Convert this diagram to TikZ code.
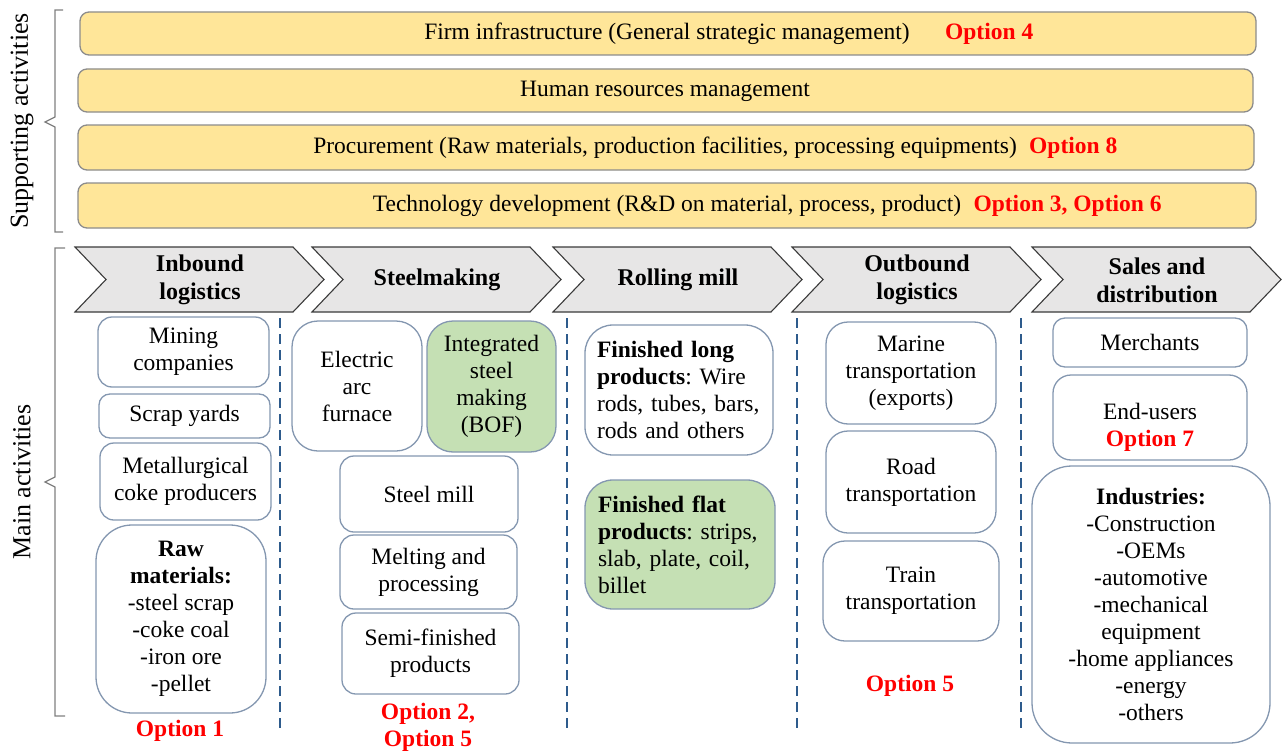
\documentclass[tikz,border=0pt]{standalone}
\usepackage{fontspec}
\setmainfont{Liberation Serif}
\frenchspacing
\definecolor{barfill}{HTML}{FFE699}
\definecolor{barline}{HTML}{8C8C8C}
\definecolor{chevfill}{HTML}{E7E6E6}
\definecolor{chevline}{HTML}{3A3A3A}
\definecolor{boxline}{HTML}{8497B0}
\definecolor{greenfill}{HTML}{C5E0B4}
\definecolor{divline}{HTML}{2E5B8C}
\definecolor{optred}{HTML}{FF0000}
\definecolor{bracegray}{HTML}{7F7F7F}
\begin{document}
\begin{tikzpicture}[x=1pt,y=-1pt,
  every node/.style={font=\rmfamily\fontsize{23.5}{27}\selectfont, inner sep=0pt, text=black},
  bar/.style={draw=barline, fill=barfill, line width=1.3pt, rounded corners=9pt},
  chev/.style={draw=chevline, fill=chevfill, line width=1.1pt, line join=miter},
  head/.style={font=\rmfamily\fontsize{24}{28}\selectfont\bfseries, align=center},
  box/.style={draw=boxline, fill=white, line width=1.3pt, rounded corners=14pt, align=center},
  gbox/.style={box, fill=greenfill},
  opt/.style={font=\rmfamily\fontsize{23.5}{27}\selectfont\bfseries, text=optred, align=center},
  divider/.style={draw=divline, line width=1.8pt, dash pattern=on 10pt off 6pt},
  bracket/.style={draw=bracegray, line width=1.3pt},
  side/.style={font=\rmfamily\fontsize{26}{30}\selectfont, rotate=90}]
\useasboundingbox (0,0) rectangle (1285,752);

% side brackets and labels
\draw[bracket] (63,10) -- (55,10) -- (55,117) -- (45,122) -- (55,127) -- (55,232) -- (63,232);
\draw[bracket] (65,248) -- (55,248) -- (55,477) -- (45,482) -- (55,487) -- (55,716) -- (65,716);
\node[side] (suplab) at (22,121) {Supporting activities};
\node[side] (mainlab) at (22,482) {Main activities};

% supporting activities
\node[bar, minimum width=1176pt, minimum height=43pt] (bar1) at (668,33.5) {};
\node[bar, minimum width=1175pt, minimum height=43pt] (bar2) at (665.5,90.5) {};
\node[bar, minimum width=1176pt, minimum height=45pt] (bar3) at (666,147.5) {};
\node[bar, minimum width=1178pt, minimum height=45pt] (bar4) at (667,205.5) {};
\node (firm) at (667,34) {Firm infrastructure (General strategic management)};
\node[opt, anchor=west] (opt4) at ([xshift=35pt]firm.east) {Option 4};
\node (hrm) at (665,91) {Human resources management};
\node (proc) at (665,148) {Procurement (Raw materials, production facilities, processing equipments)};
\node[opt, anchor=west] (opt8) at ([xshift=12pt]proc.east) {Option 8};
\node (tech) at (667,206) {Technology development (R\&D on material, process, product)};
\node[opt, anchor=west] (opt36) at ([xshift=12pt]tech.east) {Option 3, Option 6};

% value chain chevrons
\foreach \x/\nm/\txt in {75/inb/{Inbound\\logistics}, 312/stm/{Steelmaking}, 553/rol/{Rolling mill},
                         792/outb/{Outbound\\logistics}, 1032/sal/{Sales and\\distribution}} {
  \draw[chev] (\x,247) -- ++(218,0) -- ++(31,32.5) -- ++(-31,32.5) -- ++(-218,0) -- ++(31,-32.5) -- cycle;
  \node[head] (\nm) at (\x+125,280) {\txt};
}

% column dividers
\draw[divider] (280,318) -- (280,732);
\draw[divider] (567,318) -- (567,732);
\draw[divider] (797,318) -- (797,732);
\draw[divider] (1021,318) -- (1021,732);

% inbound logistics
\node[box, minimum width=171pt, minimum height=70pt] (mining) at (183.5,352) {Mining\\companies};
\node[box, minimum width=171pt, minimum height=44pt, rounded corners=11pt] (scrap) at (184.5,416) {Scrap yards};
\node[box, minimum width=171pt, minimum height=77pt] (coke) at (185.5,481.5) {Metallurgical\\coke producers};
\node[box, minimum width=170pt, minimum height=188pt, rounded corners=36pt] (raw) at (181,619)
  {\textbf{Raw}\\\textbf{materials:}\\-steel scrap\\-coke coal\\-iron ore\\-pellet};
\node[opt] (opt1) at (180,731) {Option 1};

% steelmaking
\node[box, minimum width=130pt, minimum height=130pt, rounded corners=26pt] (eaf) at (357,386) {Electric\\arc\\furnace};
\node[gbox, minimum width=129pt, minimum height=131pt, rounded corners=26pt] (bof) at (491.5,386.5) {Integrated\\steel\\making\\(BOF)};
\node[box, minimum width=178pt, minimum height=76pt] (mill) at (429,494) {Steel mill};
\node[box, minimum width=177pt, minimum height=74pt] (melt) at (428.5,572) {Melting and\\processing};
\node[box, minimum width=177pt, minimum height=81pt] (semi) at (430.5,653.5) {Semi-finished\\products};
\node[opt] (opt25) at (428,727) {Option 2,\\Option 5};

% rolling mill
\node[box, minimum width=188pt, minimum height=130pt, rounded corners=28pt, text width=164pt, align=left] (long) at (679,390)
  {\textbf{Finished long}\\\textbf{products}: Wire\\rods, tubes, bars,\\rods and others};
\node[gbox, minimum width=190pt, minimum height=129pt, rounded corners=28pt, text width=164pt, align=left] (flat) at (680,544.5)
  {\textbf{Finished flat}\\\textbf{products}: strips,\\slab, plate, coil,\\billet};

% outbound logistics
\node[box, minimum width=170pt, minimum height=102pt, rounded corners=22pt] (marine) at (911,373) {Marine\\transportation\\(exports)};
\node[box, minimum width=170pt, minimum height=102pt, rounded corners=22pt] (road) at (911,482) {Road\\transportation};
\node[box, minimum width=176pt, minimum height=100pt, rounded corners=22pt] (train) at (911,591) {Train\\transportation};
\node[opt] (opt5) at (910,686) {Option 5};

% sales and distribution
\node[box, minimum width=194pt, minimum height=49pt, rounded corners=12pt] (merch) at (1150,342.5) {Merchants};
\node[box, minimum width=194pt, minimum height=85pt, rounded corners=18pt] (endusers) at (1150,417.5) {};
\node[align=center] (endtext) at (1150,427) {End-users\\\textcolor{optred}{\textbf{Option 7}}};
\node[box, minimum width=238pt, minimum height=277pt, rounded corners=40pt] (ind) at (1151,604.5)
  {\textbf{Industries:}\\-Construction\\-OEMs\\-automotive\\-mechanical\\equipment\\-home appliances\\-energy\\-others};
\end{tikzpicture}
\end{document}
